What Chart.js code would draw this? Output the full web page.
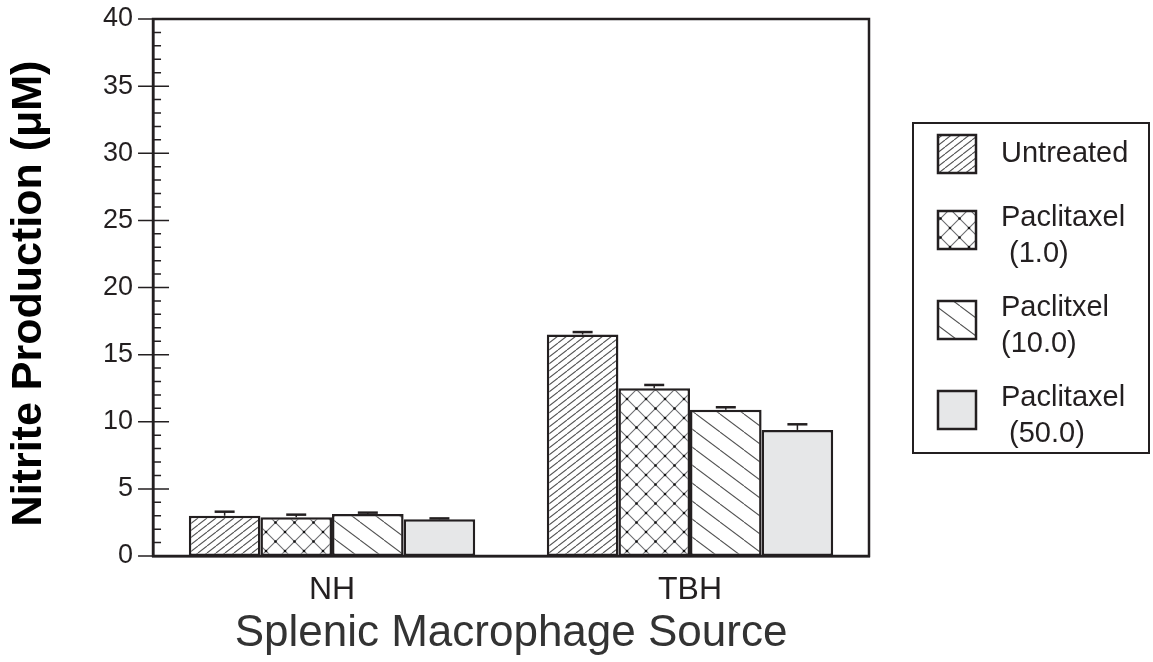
<!DOCTYPE html>
<html>
<head>
<script src="https://cdn.jsdelivr.net/npm/chart.js@4"></script>
<style>
  html, body { margin: 0; padding: 0; background: #fff; }
  #wrap { width: 1153px; height: 662px; }
</style>
</head>
<body>
<div id="wrap"><canvas id="chart" width="1153" height="662"></canvas></div>
<script>
// data
const categories = ['NH', 'TBH'];
const legendLines = [['Untreated'], ['Paclitaxel', ' (1.0)'], ['Paclitxel', '(10.0)'], ['Paclitaxel', ' (50.0)']];
const untreated = [3.0, 16.5];
const untreatedErr = [0.3, 0.18];
const pac1 = [2.88, 12.5];
const pac1Err = [0.2, 0.24];
const pac10 = [3.13, 10.9];
const pac10Err = [0.1, 0.18];
const pac50 = [2.73, 9.39];
const pac50Err = [0.07, 0.42];
const yMin = 0, yMax = 40, yStep = 5;

const INK = '#231f20';
const FONT = "'Liberation Sans', Arial, sans-serif";

function hatch(w, h, dirs, dots, color) {
  const c = document.createElement('canvas');
  c.width = w; c.height = h;
  const g = c.getContext('2d');
  g.fillStyle = '#fff';
  g.fillRect(0, 0, w, h);
  g.strokeStyle = color;
  g.lineWidth = 1.1;
  g.beginPath();
  for (let k = -1; k <= 1; k++) {
    const x = k * w;
    if (dirs.indexOf('/') >= 0) { g.moveTo(x, h); g.lineTo(x + w, 0); }
    if (dirs.indexOf('\\') >= 0) { g.moveTo(x, 0); g.lineTo(x + w, h); }
  }
  g.stroke();
  if (dots) {
    g.fillStyle = '#111';
    [[0, 0], [w, 0], [0, h], [w, h], [w / 2, h / 2]].forEach(function (p) {
      g.beginPath(); g.arc(p[0], p[1], 1.3, 0, Math.PI * 2); g.fill();
    });
  }
  return g.createPattern(c, 'repeat');
}

const fills = [
  hatch(9, 7, '/', false, '#555'),
  hatch(19, 19, '/\\', true, '#6d6e71'),
  hatch(24, 18, '\\', false, '#555'),
  '#e6e7e8'
];
const values = [untreated, pac1, pac10, pac50];
const errors = [untreatedErr, pac1Err, pac10Err, pac50Err];

const datasets = values.map(function (v, i) {
  return {
    label: legendLines[i].join(' '),
    data: v,
    errUp: errors[i],
    lines: legendLines[i],
    backgroundColor: fills[i],
    borderColor: INK,
    borderWidth: 2.5,
    borderSkipped: false,
    barPercentage: 1.0,
    categoryPercentage: 0.8
  };
});

const extras = {
  id: 'extras',
  afterDatasetsDraw(chart) {
    const ctx = chart.ctx, ys = chart.scales.y;
    ctx.save();
    ctx.strokeStyle = INK;
    chart.data.datasets.forEach(function (ds, i) {
      chart.getDatasetMeta(i).data.forEach(function (bar, j) {
        const top = ys.getPixelForValue(ds.data[j] + ds.errUp[j]);
        ctx.lineWidth = 1.5;
        ctx.beginPath(); ctx.moveTo(bar.x, bar.y); ctx.lineTo(bar.x, top); ctx.stroke();
        ctx.lineWidth = 2.5;
        ctx.beginPath(); ctx.moveTo(bar.x - 10, top); ctx.lineTo(bar.x + 10, top); ctx.stroke();
      });
    });
    ctx.restore();
  },
  afterDraw(chart) {
    const ctx = chart.ctx, a = chart.chartArea, ys = chart.scales.y;
    ctx.save();
    // frame
    ctx.strokeStyle = INK;
    ctx.lineWidth = 2.5;
    ctx.strokeRect(a.left, a.top, a.right - a.left, a.bottom - a.top);
    // y ticks, major crossing the axis, minor inside
    ctx.lineWidth = 1.5;
    ctx.beginPath();
    for (let v = yMin; v <= yMax; v++) {
      const y = ys.getPixelForValue(v);
      const major = v % yStep === 0;
      const inner = major ? ((v === yMin || v === yMax) ? 0 : 16) : 8;
      ctx.moveTo(a.left - (major ? 15 : 0), y);
      ctx.lineTo(a.left + inner, y);
    }
    ctx.stroke();
    // legend
    const bx = 913, by = 123, bw = 236, bh = 330;
    ctx.lineWidth = 2;
    ctx.strokeRect(bx, by, bw, bh);
    const centers = [154, 230, 320, 410];
    ctx.font = '29px ' + FONT;
    ctx.textBaseline = 'middle';
    chart.data.datasets.forEach(function (ds, i) {
      const cy = centers[i];
      ctx.fillStyle = ds.backgroundColor;
      ctx.fillRect(bx + 25, cy - 19, 38, 38);
      ctx.strokeStyle = INK;
      ctx.lineWidth = 2.5;
      ctx.strokeRect(bx + 25, cy - 19, 38, 38);
      ctx.fillStyle = INK;
      if (ds.lines.length === 1) {
        ctx.fillText(ds.lines[0], bx + 88, cy);
      } else {
        ctx.fillText(ds.lines[0], bx + 88, cy - 12);
        ctx.fillText(ds.lines[1], bx + 88, cy + 24);
      }
    });
    ctx.restore();
  }
};

new Chart(document.getElementById('chart'), {
  type: 'bar',
  data: { labels: categories, datasets: datasets },
  options: {
    responsive: false,
    animation: false,
    layout: { padding: { left: 8, right: 284, top: 19, bottom: 6 } },
    plugins: { legend: { display: false }, tooltip: { enabled: false } },
    scales: {
      x: {
        offset: true,
        grid: { display: false, drawTicks: false },
        border: { display: true, color: INK, width: 2.5 },
        ticks: { color: INK, padding: 18, font: { family: FONT, size: 32, lineHeight: 1 } },
        title: {
          display: true, text: 'Splenic Macrophage Source', color: '#333',
          font: { family: FONT, size: 44, lineHeight: 1 }, padding: { top: -12, bottom: 0 }
        }
      },
      y: {
        min: yMin, max: yMax,
        afterFit: function (s) { s.paddingTop = 0; s.paddingBottom = 0; },
        grid: { display: false, drawTicks: false },
        border: { display: true, color: INK, width: 2.5 },
        ticks: { stepSize: yStep, color: INK, padding: 20, font: { family: FONT, size: 27, lineHeight: 1 } },
        title: {
          display: true, text: 'Nitrite Production (\u03bcM) ', color: '#000',
          font: { family: FONT, size: 43, weight: 'bold', lineHeight: 1 }, padding: { top: 0, bottom: 32 }
        }
      }
    }
  },
  plugins: [extras]
});
</script>
</body>
</html>
